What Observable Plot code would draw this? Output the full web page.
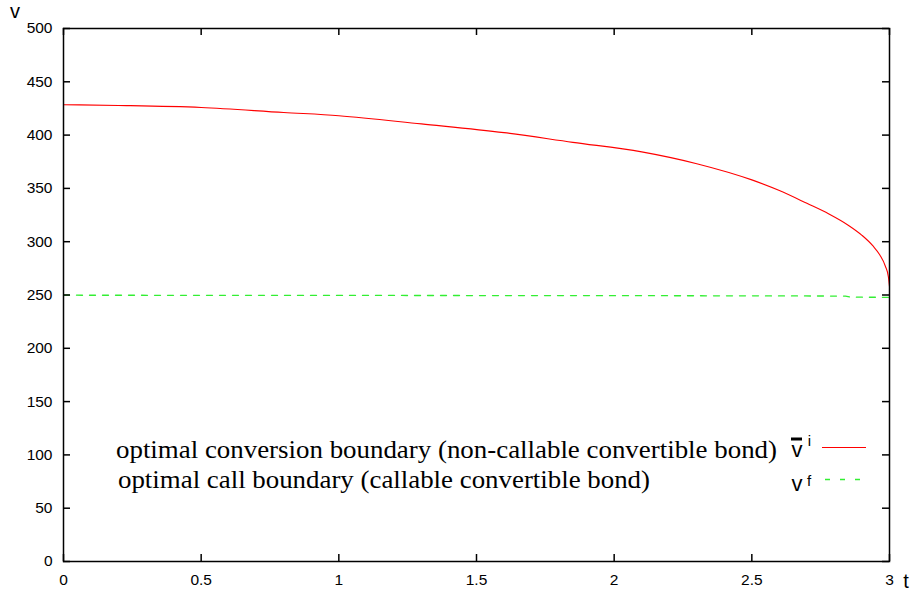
<!DOCTYPE html>
<html>
<head>
<meta charset="utf-8">
<script src="https://cdn.jsdelivr.net/npm/d3@7"></script>
<script src="https://cdn.jsdelivr.net/npm/@observablehq/plot@0.6"></script>
<style>
  html, body { margin: 0; padding: 0; background: #fff; }
  #wrap { position: relative; width: 911px; height: 594px; }
  #legend { position: absolute; left: 0; top: 0; pointer-events: none; }
</style>
</head>
<body>
<div id="wrap"></div>
<script>
// ---- data ----
const conversionT = [0, 0.2, 0.5, 0.8, 1.0, 1.3, 1.6, 1.85, 2.1, 2.3, 2.5, 2.6, 2.7, 2.78, 2.85, 2.9, 2.94, 2.965, 2.985, 2.996, 3.0];
const conversionV = [428.5, 427.8, 425.9, 421.2, 418.2, 410.5, 402.3, 393.2, 384.3, 373.2, 358.0, 348.0, 336.0, 326.0, 315.5, 306.0, 296.0, 287.5, 277.0, 267.0, 258.0];
const callT = [0, 0.5, 1.0, 1.5, 2.0, 2.5, 2.84, 2.86, 3.0];
const callV = [249.8, 249.7, 249.6, 249.5, 249.4, 249.2, 249.0, 248.0, 247.8];
const xTicks = [0, 0.5, 1, 1.5, 2, 2.5, 3];
const yTicks = [0, 50, 100, 150, 200, 250, 300, 350, 400, 450, 500];
const seriesLabels = [
  "optimal conversion boundary (non-callable convertible bond)",
  "optimal call boundary (callable convertible bond)"
];

const W = 911, H = 594, ML = 63, MR = 22, MT = 28, MB = 33;
const FW = W - ML - MR, FH = H - MT - MB, TK = 7;

const conversion = conversionT.map((t, i) => ({t, v: conversionV[i]}));
const call = callT.map((t, i) => ({t, v: callV[i]}));

const chart = Plot.plot({
  width: W, height: H,
  marginLeft: ML, marginRight: MR, marginTop: MT, marginBottom: MB,
  x: {domain: [0, 3]},
  y: {domain: [0, 500]},
  style: {fontFamily: "'Liberation Sans', Arial, sans-serif", fontSize: "15.5px", color: "#000", background: "#fff"},
  marks: [
    Plot.line(call, {x: "t", y: "v", stroke: "#33ee33", strokeWidth: 1.3, strokeDasharray: "6,7"}),
    Plot.line(conversion, {x: "t", y: "v", stroke: "#ff0000", strokeWidth: 1.1, curve: "monotone-x"}),
    // inward ticks on all four sides
    Plot.ruleY(yTicks, {y: d => d, insetRight: FW - TK, stroke: "#000", strokeWidth: 1.5}),
    Plot.ruleY(yTicks, {y: d => d, insetLeft: FW - TK, stroke: "#000", strokeWidth: 1.5}),
    Plot.ruleX(xTicks, {x: d => d, insetTop: FH - TK, stroke: "#000", strokeWidth: 1.5}),
    Plot.ruleX(xTicks, {x: d => d, insetBottom: FH - TK, stroke: "#000", strokeWidth: 1.5}),
    Plot.axisY(yTicks, {anchor: "left", tickSize: 0, tickPadding: 11, label: null, tickFormat: d => String(d)}),
    Plot.axisX(xTicks, {anchor: "bottom", tickSize: 0, tickPadding: 12, label: null, tickFormat: d => String(d)}),
    Plot.frame({stroke: "#000", strokeWidth: 1.5})
  ]
});
document.getElementById("wrap").appendChild(chart);

// axis titles + legend overlay
const ns = "http://www.w3.org/2000/svg";
const ov = document.createElementNS(ns, "svg");
ov.setAttribute("id", "legend");
ov.setAttribute("width", W);
ov.setAttribute("height", H);
function txt(s, x, y, size, family, anchor, len) {
  const e = document.createElementNS(ns, "text");
  e.setAttribute("x", x); e.setAttribute("y", y);
  e.setAttribute("font-size", size);
  e.setAttribute("font-family", family);
  if (anchor) e.setAttribute("text-anchor", anchor);
  if (len) { e.setAttribute("textLength", len); e.setAttribute("lengthAdjust", "spacingAndGlyphs"); }
  e.textContent = s;
  ov.appendChild(e);
  return e;
}
function ln(x1, y1, x2, y2, stroke, w, dash) {
  const e = document.createElementNS(ns, "line");
  e.setAttribute("x1", x1); e.setAttribute("y1", y1);
  e.setAttribute("x2", x2); e.setAttribute("y2", y2);
  e.setAttribute("stroke", stroke); e.setAttribute("stroke-width", w);
  if (dash) e.setAttribute("stroke-dasharray", dash);
  ov.appendChild(e);
}
const sans = "'Liberation Sans', Arial, sans-serif";
const serif = "'Liberation Serif', 'Times New Roman', serif";
txt("v", 15, 18, 20, sans, "middle");
txt("t", 906, 588, 20, sans, "middle");
txt(seriesLabels[0], 116, 458, 25, serif, null, 661);
txt(seriesLabels[1], 118, 488, 25, serif, null, 532);
txt("v", 797, 457, 22, sans, "middle");
ln(791, 439, 802, 439, "#000", 3);
txt("i", 809.5, 446, 15, sans, "middle");
txt("v", 797, 491, 22, sans, "middle");
txt("f", 809, 486, 15, sans, "middle");
ln(822, 447.5, 866, 447.5, "#ff0000", 1.1);
ln(825, 479.5, 862, 479.5, "#33ee33", 1.3, "5,10");
document.getElementById("wrap").appendChild(ov);
</script>
</body>
</html>
